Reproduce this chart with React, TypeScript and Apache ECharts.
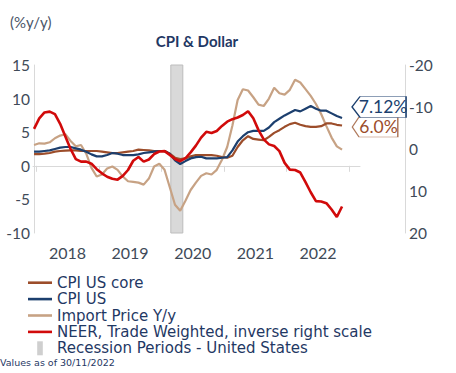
import React, { useEffect, useRef } from "react";
import * as echarts from "echarts";

// month index 0 = Dec 2017 (month-end), 59 = Nov 2022
const cpiCore = [1.75,1.75,1.8,1.9,2.1,2.2,2.25,2.3,2.3,2.2, 2.2,2.2,2.2,2.1,2.0,1.9,1.9,2.0,2.1,2.2, 2.4,2.35,2.3,2.2,2.2,2.2,1.8,1.2,1.0,1.1, 1.4,1.6,1.6,1.6,1.6,1.5,1.3,1.2,1.5,2.8, 3.8,4.4,4.0,3.9,3.8,4.3,4.9,5.3,5.8,6.2, 6.4,6.1,5.9,5.8,5.8,5.9,6.3,6.3,6.1,6.0];
const cpiUs = [2.1,2.1,2.2,2.3,2.5,2.7,2.8,2.8,2.6,2.4, 2.1,1.7,1.4,1.4,1.6,1.9,1.8,1.6,1.6,1.6, 1.7,1.9,2.0,2.1,2.2,2.2,1.8,0.8,0.27,0.7, 1.1,1.3,1.35,1.1,1.1,1.1,1.2,1.3,2.3,3.6, 4.4,5.0,5.2,5.2,5.2,5.7,6.5,7.0,7.5,7.9, 8.3,8.1,8.5,8.9,8.5,8.2,8.2,7.8,7.4,7.12];
const importPrice = [3.1,3.35,3.3,3.5,4.1,4.5,4.7,3.7,2.9,3.1, 1.8,-0.3,-1.6,-1.3,-0.4,-0.1,-0.6,-1.6,-2.3,-2.4, -2.5,-2.8,-1.9,-0.1,0.3,-0.6,-3.2,-5.8,-6.7,-5.2, -3.6,-2.5,-1.5,-1.1,-1.3,-0.6,0.9,2.8,6.0,9.8, 11.4,11.2,10.2,9.1,8.9,10.0,11.6,10.8,10.6,11.3, 12.8,12.4,11.4,10.4,9.2,7.7,5.9,4.2,2.9,2.4];
const neer = [-4.8,-7.3,-8.7,-8.9,-8.3,-6.0,-3.0,0.0,2.4,3.0, 3.0,3.5,4.8,5.8,6.6,7.1,7.3,6.4,5.0,2.8, 1.9,3.0,2.5,1.2,0.6,0.5,1.4,2.4,2.9,2.2, 0.8,-0.8,-2.7,-4.1,-3.8,-4.3,-5.5,-6.5,-7.1,-7.5, -8.1,-9.0,-7.3,-4.5,-2.3,-1.1,-0.7,0.5,3.3,4.9, 5.0,5.6,7.9,10.3,12.4,12.5,12.9,14.4,16.2,13.7];

const recession = [26.2, 28.5];
const yearLabels = ["2018", "2019", "2020", "2021", "2022"];
const yearTicks = [0.4, 12.4, 24.4, 36.4, 48.4, 60.4];
const yearLabelPos = [6.4, 18.4, 30.4, 42.4, 54.4];

const names = [
  "CPI US core",
  "CPI US",
  "Import Price Y/y",
  "NEER, Trade Weighted, inverse right scale",
  "Recession Periods - United States",
];

const FONT = "Lato";
const WIDE = "DejaVu Sans";
const NAVY = "#1c3f6e";
const BROWN = "#9c4d2a";
const TAN = "#c7a284";
const RED = "#d10a0a";
const GRAY_TXT = "#404a58";
const AXIS_LINE = "#d9d9d9";
const LINE_ICON = "path://M0,0L24,0L24,2.6L0,2.6Z";

const toPairs = (arr: number[]) => arr.map((v, i) => [i, v]);

export default function App() {
  const ref = useRef<HTMLDivElement>(null);
  useEffect(() => {
    if (!ref.current) return;
    const chart = echarts.init(ref.current, undefined, { renderer: "svg" });
    const last = cpiUs.length - 1;
    chart.setOption({
      animation: false,
      grid: { left: 33, right: 96, top: 65, bottom: 140, containLabel: false },
      graphic: [
        {
          type: "text", x: 10, y: 22,
          style: { text: "(%y/y)", font: `15px ${FONT}`, fill: "#4a5568", textVerticalAlign: "middle" },
        },
        {
          type: "text", x: 197, y: 41,
          style: { text: "CPI & Dollar", font: `bold 15px ${FONT}`, fill: "#1f3864", textAlign: "center", textVerticalAlign: "middle" },
        },
        {
          type: "text", x: 0, y: 362,
          style: { text: "Values as of 30/11/2022", font: `9.5px "${WIDE}"`, fill: "#1f3864", textVerticalAlign: "middle" },
        },
      ],
      legend: {
        orient: "vertical",
        left: 28,
        top: 274.5,
        padding: 0,
        itemGap: 0,
        itemWidth: 24,
        itemHeight: 14,
        selectedMode: false,
        textStyle: { fontFamily: WIDE, fontSize: 15, color: "#1f3864", lineHeight: 16.4 },
        data: [
          { name: names[0], icon: LINE_ICON },
          { name: names[1], icon: LINE_ICON },
          { name: names[2], icon: LINE_ICON },
          { name: names[3], icon: LINE_ICON },
          { name: names[4], icon: "path://M0,0L4,0L4,10L0,10Z" },
        ],
      },
      xAxis: {
        type: "value",
        min: -0.2,
        max: 62.44,
        axisLine: { show: true, lineStyle: { color: AXIS_LINE, width: 1 } },
        axisTick: { show: true, customValues: yearTicks, length: 6, lineStyle: { color: AXIS_LINE } },
        splitLine: { show: false },
        axisLabel: {
          customValues: yearLabelPos,
          margin: 11,
          fontFamily: FONT,
          fontSize: 16,
          color: GRAY_TXT,
          formatter: (v: number) => yearLabels[Math.round((v - 6.4) / 12)] ?? "",
        },
      },
      yAxis: [
        {
          type: "value",
          min: -10,
          max: 15,
          interval: 5,
          axisLine: { show: true, lineStyle: { color: AXIS_LINE } },
          axisTick: { show: false },
          splitLine: { show: false },
          axisLabel: { margin: 3, fontFamily: FONT, fontSize: 15.5, color: GRAY_TXT },
        },
        {
          type: "value",
          min: -20,
          max: 20,
          interval: 10,
          inverse: true,
          position: "right",
          offset: 45,
          axisLine: { show: true, lineStyle: { color: AXIS_LINE } },
          axisTick: { show: false },
          splitLine: { show: false },
          axisLabel: { margin: 4, fontFamily: FONT, fontSize: 15.5, color: GRAY_TXT },
        },
      ],
      series: [
        {
          name: names[4],
          type: "line",
          data: [],
          color: "#cfcfcf",
          symbol: "none",
          silent: true,
          markArea: {
            silent: true,
            itemStyle: { color: "#d9d9d9", borderColor: "#bdbdbd", borderWidth: 1 },
            data: [[{ xAxis: recession[0] }, { xAxis: recession[1] }]],
          },
        },
        {
          name: names[2],
          type: "line",
          data: toPairs(importPrice),
          color: TAN,
          symbol: "none",
          clip: false,
          lineStyle: { width: 2.2, color: TAN },
        },
        {
          name: names[0],
          type: "line",
          data: toPairs(cpiCore),
          color: BROWN,
          symbol: "none",
          clip: false,
          lineStyle: { width: 2.2, color: BROWN },
          markPoint: {
            silent: true,
            symbol: "path://M0,10L8,0L54,0L54,20L8,20Z",
            symbolSize: [45.5, 20],
            symbolOffset: [33, 1.5],
            itemStyle: { color: "#ffffff", borderColor: "#b07a5c", borderWidth: 1 },
            label: {
              show: true, position: "inside", offset: [3.5, 0],
              fontFamily: FONT, fontSize: 17.5, color: BROWN,
              formatter: (p: any) => `${Number(p.value).toFixed(1)}%`,
            },
            data: [{ coord: [last, cpiCore[last]], value: cpiCore[last] }],
          },
        },
        {
          name: names[1],
          type: "line",
          data: toPairs(cpiUs),
          color: NAVY,
          symbol: "none",
          clip: false,
          lineStyle: { width: 2.2, color: NAVY },
          markPoint: {
            silent: true,
            symbol: "path://M0,10L8,0L54,0L54,20L8,20Z",
            symbolSize: [54, 21],
            symbolOffset: [37, -11],
            itemStyle: { color: "#ffffff", borderColor: NAVY, borderWidth: 1 },
            label: {
              show: true, position: "inside", offset: [4, 0],
              fontFamily: FONT, fontSize: 17.5, color: NAVY,
              formatter: (p: any) => `${Number(p.value).toFixed(2)}%`,
            },
            data: [{ coord: [last, cpiUs[last]], value: cpiUs[last] }],
          },
        },
        {
          name: names[3],
          type: "line",
          yAxisIndex: 1,
          data: toPairs(neer),
          color: RED,
          symbol: "none",
          clip: false,
          lineStyle: { width: 2.6, color: RED },
        },
      ],
    });
    return () => chart.dispose();
  }, []);
  return (
    <div
      ref={ref}
      style={{ position: "fixed", left: 0, top: 0, width: 456, height: 373, background: "#fff" }}
    />
  );
}
